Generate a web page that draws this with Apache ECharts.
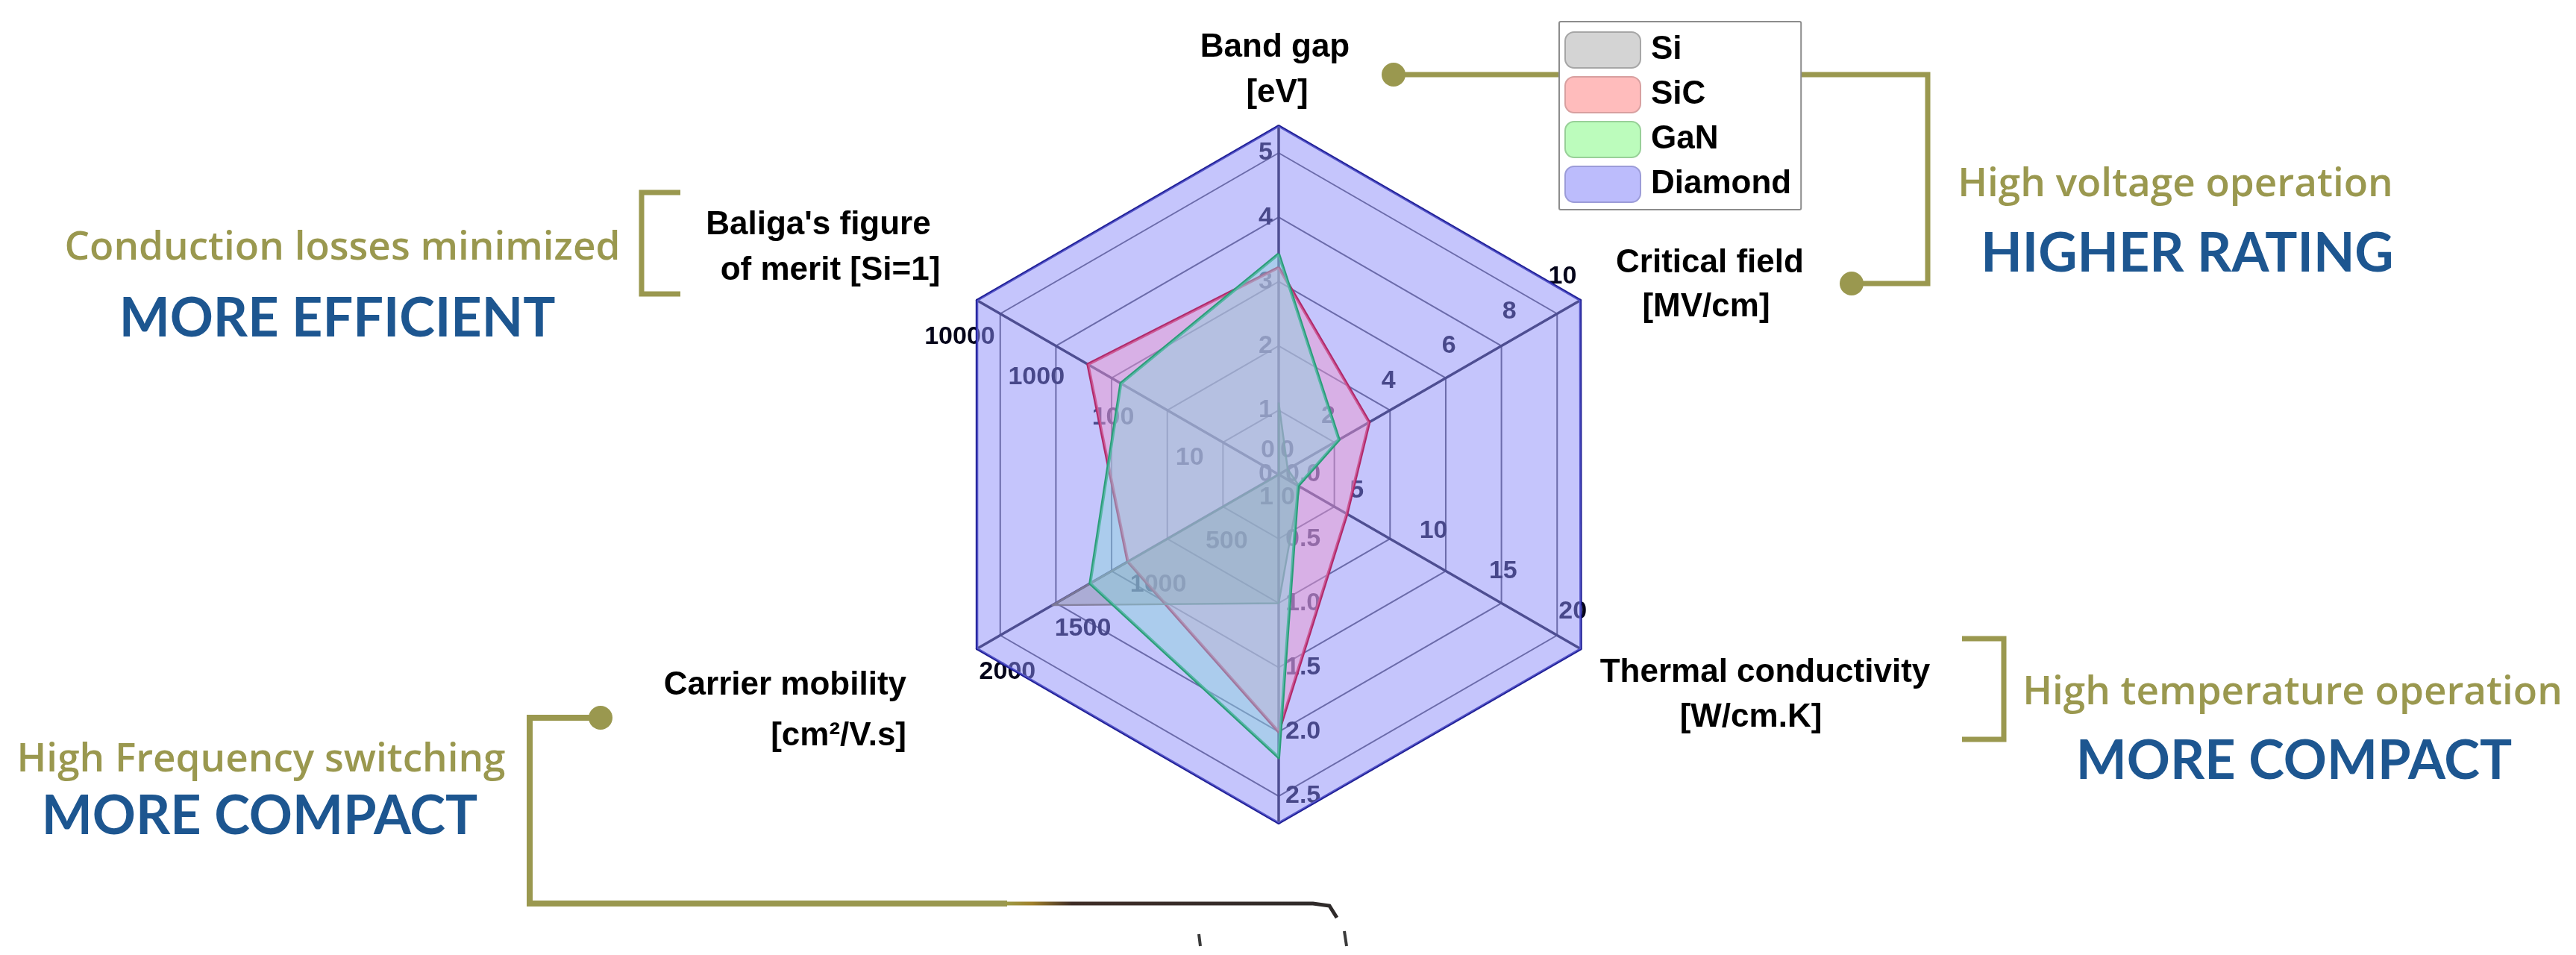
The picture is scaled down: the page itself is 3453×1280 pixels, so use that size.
<!DOCTYPE html>
<html>
<head>
<meta charset="utf-8">
<script src="https://cdn.jsdelivr.net/npm/echarts@6/dist/echarts.min.js"></script>
<style>
html,body{margin:0;padding:0;background:#fff;}
#c{width:3453px;height:1280px;}
</style>
</head>
<body>
<div id="c"></div>
<script>
// ---------------- DATA ----------------
// Radar indicators in ECharts order (counter-clockwise, starting at the top)
const AXES = ['Band gap', "Baliga's figure of merit", 'Carrier mobility', 'Saturation velocity', 'Thermal conductivity', 'Critical field'];
const MATERIALS = ['Si', 'SiC', 'GaN', 'Diamond'];

// values per material, same order as AXES
const SI      = [1.12,     1, 1500, 1.0,  1.5,  0.3];
const SIC     = [3.22,   550, 1000, 2.0,  4.9,  3.0];
const GAN     = [3.43,   185, 1250, 2.2,  1.4,  2.0];
const DIAMOND = [5.42, 21600, 2000, 2.71, 21.7, 10];

// tick labels per axis
const TICKS_GAP   = ['0', '1', '2', '3', '4', '5'];
const TICKS_BFOM  = ['1', '10', '100', '1000', '10000'];
const TICKS_MOB   = ['0', '500', '1000', '1500', '2000'];
const TICKS_VSAT  = ['0.0', '0.5', '1.0', '1.5', '2.0', '2.5'];
const TICKS_KTH   = ['0', '5', '10', '15', '20'];
const TICKS_ECRIT = ['0', '2', '4', '6', '8', '10'];

// ---------------- LAYOUT / STYLE ----------------
const CENTER = [1714, 636];
const RING_R = 431;   // radius of the 5th grid ring
const OUTER_R = 467;  // radius of the axis lines / outer polygon

const TICKS = [TICKS_GAP, TICKS_BFOM, TICKS_MOB, TICKS_VSAT, TICKS_KTH, TICKS_ECRIT];
const TRANSFORM = [v => v, v => Math.log10(v), v => v, v => v, v => v, v => v];
const TICK_MAX = TICKS.map((t, i) => TRANSFORM[i](parseFloat(t[t.length - 1])));
// radius at which the last tick label of each axis sits
const TICK_RADIUS = [RING_R, RING_R, OUTER_R, RING_R, RING_R, OUTER_R];
const LABEL_PLACE = [
  {align: 'right', verticalAlign: 'middle', padding: [0, 8, 0, 0]},
  {align: 'right', verticalAlign: 'top',    padding: [14, 7, 0, 0]},
  {align: 'left',  verticalAlign: 'top',    padding: [14, 0, 0, 3]},
  {align: 'left',  verticalAlign: 'middle', padding: [0, 0, 0, 9]},
  {align: 'left',  verticalAlign: 'bottom', padding: [0, 0, 15, 2]},
  {align: 'right', verticalAlign: 'bottom', padding: [0, 5, 15, 0]}
];

function makeRadar(radius, splitNumber, labelAxes, extra) {
  return Object.assign({
    center: CENTER, radius: radius, splitNumber: splitNumber, startAngle: 90, shape: 'polygon',
    axisName: {show: false},
    splitArea: {show: false}, splitLine: {show: false}, axisLine: {show: false}, axisTick: {show: false},
    axisLabel: {show: false},
    indicator: TICKS.map((t, i) => {
      const ind = {name: AXES[i], min: 0, max: TICK_MAX[i] * radius / TICK_RADIUS[i]};
      if (labelAxes.indexOf(i) >= 0) {
        ind.axisLabel = Object.assign({
          show: true, margin: 0, color: '#05051a', fontSize: 34, fontWeight: 'bold',
          fontFamily: 'Liberation Sans', formatter: (v, k) => t[k]
        }, LABEL_PLACE[i]);
      }
      return ind;
    })
  }, extra || {});
}

const SERIES_STYLE = {
  Diamond: {line: {color: '#1e1e96', width: 3.5}, area: {color: 'rgba(140,140,250,0.5)', opacity: 1}},
  SiC:     {line: {color: '#b0286a', width: 4},   area: {color: 'rgba(240,150,205,0.45)', opacity: 1}},
  Si:      {line: {color: 'rgba(125,120,150,0.9)', width: 2.5}, area: {color: 'rgba(130,132,150,0.38)', opacity: 1}},
  GaN:     {line: {color: '#2a9d78', width: 4},   area: {color: 'rgba(140,212,220,0.45)', opacity: 1}}
};
const LEGEND_SWATCH = {
  Si:      {color: '#d4d4d4', borderColor: '#a6a6a6', borderWidth: 2},
  SiC:     {color: '#ffbcbc', borderColor: '#d8a0a0', borderWidth: 2},
  GaN:     {color: '#bcfcbc', borderColor: '#98d098', borderWidth: 2},
  Diamond: {color: '#bcbcfc', borderColor: '#9c9cd8', borderWidth: 2}
};
const DRAW_ORDER = [['Diamond', DIAMOND], ['SiC', SIC], ['Si', SI], ['GaN', GAN]];

const OLIVE = '#9a984f';
const NAVY = '#1d5690';
const TITLE_FONT = 'bold 44px "Liberation Sans", Arial, sans-serif';
const OLIVE_FONT = '600 53px "Open Sans", sans-serif';
const NAVY_FONT = 'bold 72px Lato, sans-serif';

function txt(text, x, y, font, fill, align) {
  return {type: 'text', x: x, y: y, z: 1, silent: true,
    style: {text: text, font: font, fill: fill, align: align || 'center', verticalAlign: 'middle',
            textAlign: align || 'center', textVerticalAlign: 'middle'}};
}
function pline(points, color, width) {
  return {type: 'polyline', z: 1, silent: true, shape: {points: points},
    style: {stroke: color, lineWidth: width, fill: null, lineJoin: 'miter'}};
}
function dot(x, y, r, color) {
  return {type: 'circle', z: 1, silent: true, shape: {cx: x, cy: y, r: r}, style: {fill: color}};
}

const graphics = [
  // axis titles
  txt('Band gap', 1709, 64, TITLE_FONT, '#000'),
  txt('[eV]', 1712, 125, TITLE_FONT, '#000'),
  txt("Baliga's figure", 1097, 302, TITLE_FONT, '#000'),
  txt('of merit [Si=1]', 1113, 363, TITLE_FONT, '#000'),
  txt('Critical field', 2292, 353, TITLE_FONT, '#000'),
  txt('[MV/cm]', 2287, 412, TITLE_FONT, '#000'),
  txt('Thermal conductivity', 2366, 902, TITLE_FONT, '#000'),
  txt('[W/cm.K]', 2347, 962, TITLE_FONT, '#000'),
  txt('Carrier mobility', 1215, 919, TITLE_FONT, '#000', 'right'),
  txt('[cm\u00b2/V.s]', 1215, 987, TITLE_FONT, '#000', 'right'),
  // annotations
  txt('Conduction losses minimized', 459, 333, OLIVE_FONT, OLIVE),
  txt('MORE EFFICIENT', 452, 428, NAVY_FONT, NAVY),
  txt('High voltage operation', 2916, 248, OLIVE_FONT, OLIVE),
  txt('HIGHER RATING', 2932, 341, NAVY_FONT, NAVY),
  txt('High temperature operation', 3073, 929, OLIVE_FONT, OLIVE),
  txt('MORE COMPACT', 3075, 1021, NAVY_FONT, NAVY),
  txt('High Frequency switching', 350, 1019, OLIVE_FONT, OLIVE),
  txt('MORE COMPACT', 348, 1095, NAVY_FONT, NAVY),
  // connectors and brackets
  pline([[1868, 100], [2584, 100], [2584, 380], [2482, 380]], OLIVE, 7),
  dot(1868, 100, 16, OLIVE), dot(2482, 380, 16, OLIVE),
  pline([[912, 258], [860, 258], [860, 394], [912, 394]], OLIVE, 7),
  pline([[2630, 856], [2686, 856], [2686, 991], [2630, 991]], OLIVE, 7),
  pline([[805, 962], [710, 962], [710, 1211], [1350, 1211]], OLIVE, 8),
  dot(805, 962, 16, OLIVE),
  {type: 'polyline', z: 1, silent: true,
   shape: {points: [[1348, 1211], [1760, 1211], [1782, 1214], [1792, 1230]]},
   style: {fill: null, lineWidth: 5,
     stroke: {type: 'linear', x: 1348, y: 0, x2: 1792, y2: 0, global: true,
       colorStops: [{offset: 0, color: '#9d9b45'}, {offset: 0.08, color: '#a0802a'},
                    {offset: 0.2, color: '#3e2c26'}, {offset: 1, color: '#2e2a2a'}]}}},
  pline([[1607, 1252], [1609, 1268]], '#3a3a3a', 4),
  pline([[1802, 1248], [1805, 1268]], '#3a3a3a', 4)
];

const option = {
  backgroundColor: '#fff',
  animation: false,
  legend: {
    orient: 'vertical', left: 2090, top: 29, padding: [13, 13, 9, 7],
    itemWidth: 101, itemHeight: 48, itemGap: 10, icon: 'roundRect', selectedMode: false, z: 10,
    backgroundColor: '#fff', borderColor: '#8c8c8c', borderWidth: 2, borderRadius: 2,
    textStyle: {fontSize: 44, fontWeight: 'bold', fontFamily: 'Liberation Sans', color: '#000', padding: [0, 0, 0, 9]},
    data: MATERIALS.map(n => ({name: n, itemStyle: LEGEND_SWATCH[n]}))
  },
  radar: [
    // grid rings + band gap / velocity labels
    makeRadar(RING_R, 5, [0, 3], {splitLine: {show: true, lineStyle: {color: '#4a4a5a', width: 2}}}),
    // axis lines + critical field labels; series live here
    makeRadar(OUTER_R, 5, [5], {axisLine: {show: true, lineStyle: {color: '#10102a', width: 3.5}}}),
    // thermal conductivity and Baliga labels
    makeRadar(RING_R, 4, [1, 4]),
    // carrier mobility labels
    makeRadar(OUTER_R, 4, [2])
  ],
  series: DRAW_ORDER.map(([name, vals]) => ({
    type: 'radar', radarIndex: 1, name: name, symbol: 'none', silent: true,
    lineStyle: SERIES_STYLE[name].line, areaStyle: SERIES_STYLE[name].area,
    itemStyle: {color: LEGEND_SWATCH[name].color},
    data: [{name: name, value: vals.map((v, i) => TRANSFORM[i](v))}]
  })),
  graphic: {elements: graphics}
};

const chart = echarts.init(document.getElementById('c'), null, {renderer: 'canvas', width: 3453, height: 1280});
chart.setOption(option);
</script>
</body>
</html>
